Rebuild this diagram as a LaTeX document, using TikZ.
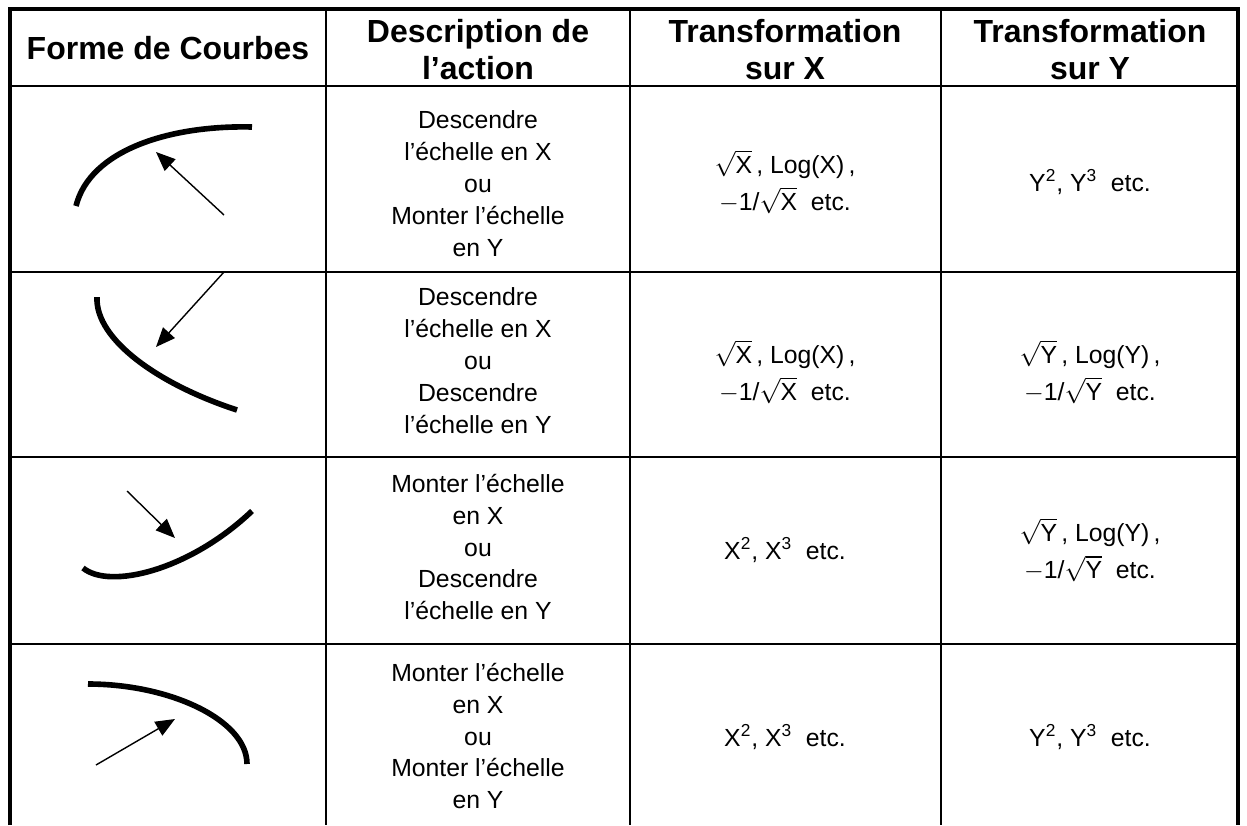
\documentclass[tikz,border=0pt]{standalone}
\usepackage{fontspec}
\setmainfont{Liberation Sans}
\usetikzlibrary{arrows.meta}

\newcommand\racine[1]{\(\sqrt{\mbox{#1}}\)}

\begin{document}
\begin{tikzpicture}[x=0.02cm,y=-0.02cm,
  cell/.style={align=center,font=\fontsize{14.1}{18.2}\selectfont,inner sep=0pt},
  head/.style={align=center,font=\fontsize{18.2}{21}\selectfont\bfseries,inner sep=0pt},
  rule/.style={line width=1.3pt},
  border/.style={line width=1.8pt},
  courbe/.style={line width=3.2pt},
  fleche/.style={line width=0.8pt,-{Triangle[length=11pt,width=9pt]}}
]
\useasboundingbox (0,0) rectangle (1247,825);

% grid
\draw[border] (10,825) -- (10,9) -- (1238,9) -- (1238,825);
\foreach \x in {326,630,941}
  \draw[rule] (\x,9) -- (\x,825);
\foreach \y in {86,272,457,644}
  \draw[rule] (10,\y) -- (1238,\y);

% header
\node[head] (h1) at (168,48) {Forme de Courbes};
\node[head] (h2) at (478,50) {Description de\\l’action};
\node[head] (h3) at (785,50) {Transformation\\sur X};
\node[head] (h4) at (1090,50) {Transformation\\sur Y};

% curves
\draw[courbe] (76,206) .. controls (90,150) and (170,125) .. (252,127);
\coordinate (a1s) at (224,215);
\coordinate (a1e) at (156,152);
\draw[fleche] (a1s) -- (a1e);

\draw[courbe] (97,297) .. controls (95,340) and (160,385) .. (237,410);
\coordinate (a2s) at (224,272);
\coordinate (a2e) at (156,347);
\draw[fleche] (a2s) -- (a2e);

\draw[courbe] (83,568) .. controls (110,590) and (190,570) .. (252,511);
\coordinate (a3s) at (127,491);
\coordinate (a3e) at (175,538);
\draw[fleche] (a3s) -- (a3e);

\draw[courbe] (88,684) .. controls (170,684) and (247,720) .. (247,764);
\coordinate (a4s) at (96,765);
\coordinate (a4e) at (175,719);
\draw[fleche] (a4s) -- (a4e);

% actions
\node[cell] (d1) at (478,184) {Descendre\\l’échelle en X\\ou\\Monter l’échelle\\en Y};
\node[cell] (d2) at (478,361) {Descendre\\l’échelle en X\\ou\\Descendre\\l’échelle en Y};
\node[cell] (d3) at (478,547) {Monter l’échelle\\en X\\ou\\Descendre\\l’échelle en Y};
\node[cell] (d4) at (478,736) {Monter l’échelle\\en X\\ou\\Monter l’échelle\\en Y};

% transformations
\node[cell] (t1x) at (785,182) {\racine{X}\,, Log(X)\,,\\[3pt]\(-\)1/\racine{X}~ etc.};
\node[cell] (t1y) at (1090,182) {Y\textsuperscript{2}, Y\textsuperscript{3}~ etc.};
\node[cell] (t2x) at (785,372) {\racine{X}\,, Log(X)\,,\\[3pt]\(-\)1/\racine{X}~ etc.};
\node[cell] (t2y) at (1090,372) {\racine{Y}\,, Log(Y)\,,\\[3pt]\(-\)1/\racine{Y}~ etc.};
\node[cell] (t3x) at (785,550) {X\textsuperscript{2}, X\textsuperscript{3}~ etc.};
\node[cell] (t3y) at (1090,550) {\racine{Y}\,, Log(Y)\,,\\[3pt]\(-\)1/\racine{Y}~ etc.};
\node[cell] (t4x) at (785,737) {X\textsuperscript{2}, X\textsuperscript{3}~ etc.};
\node[cell] (t4y) at (1090,737) {Y\textsuperscript{2}, Y\textsuperscript{3}~ etc.};

\end{tikzpicture}
\end{document}
